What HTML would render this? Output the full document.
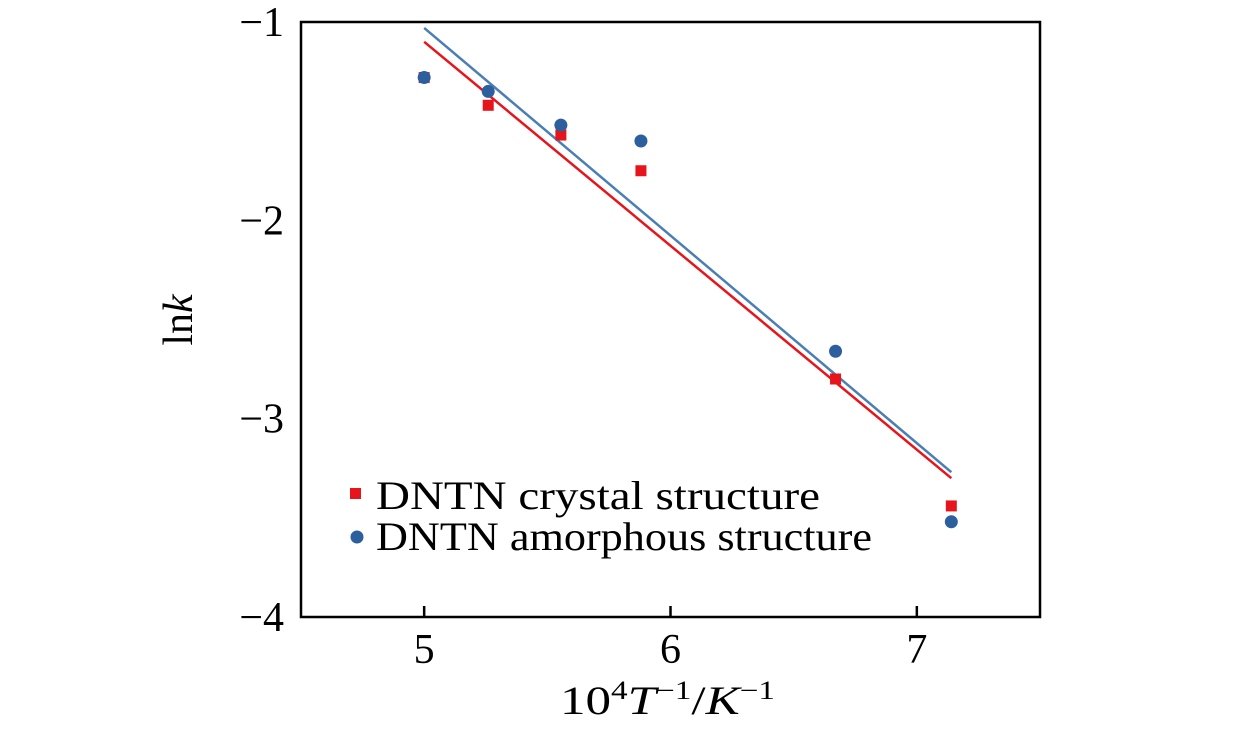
<!DOCTYPE html>
<html><head><meta charset="utf-8">
<style>
body{margin:0;background:#fff;}
svg text{font-family:"Liberation Serif",serif;fill:#000;}
</style></head>
<body>
<svg id="chart" width="1260" height="724">
<rect x="301" y="22" width="739" height="595" fill="none" stroke="#000" stroke-width="2.5"/>
<g id="axes"></g>
<g id="marks"></g>
<text x="560" y="714" font-size="40" textLength="215" lengthAdjust="spacingAndGlyphs">10<tspan font-size="26" dy="-15">4</tspan><tspan dy="15" font-style="italic">T</tspan><tspan font-size="26" dy="-15">−1</tspan><tspan dy="15">/</tspan><tspan font-style="italic">K</tspan><tspan font-size="26" dy="-15">−1</tspan></text>
<text transform="translate(192,320) rotate(-90)" font-size="42" text-anchor="middle">ln<tspan font-style="italic">k</tspan></text>
<g>
<rect x="350" y="488" width="11" height="11" fill="#e8141b"/>
<text x="376" y="509" font-size="40" textLength="444" lengthAdjust="spacingAndGlyphs">DNTN crystal structure</text>
<circle cx="357" cy="537" r="6.5" fill="#2c5f9e"/>
<text x="376" y="550" font-size="40" textLength="496" lengthAdjust="spacingAndGlyphs">DNTN amorphous structure</text>
</g>
</svg>
<script>
const xTicks=[5,6,7];
const yTicks=[-1,-2,-3,-4];
const xVals=[5.0,5.26,5.555,5.88,6.67,7.14];
const crystal=[-1.28,-1.42,-1.57,-1.75,-2.80,-3.44];
const amorphous=[-1.28,-1.35,-1.52,-1.60,-2.66,-3.52];
const crystalFit=[-1.10,-3.30];
const amorphousFit=[-1.03,-3.27];
const fitX=[5.0,7.14];
const NS='http://www.w3.org/2000/svg';
const X=v=>301+(v-4.5)/3*739;
const Y=v=>22+(-1-v)/3*595;
function mk(t,a,p){const e=document.createElementNS(NS,t);for(const k in a)e.setAttribute(k,a[k]);p.appendChild(e);return e;}
const ax=document.getElementById('axes'),mg=document.getElementById('marks');
xTicks.forEach(t=>{
 const l=mk('line',{x1:X(t),x2:X(t),y1:617,y2:606,stroke:'#000','stroke-width':2.5},ax);
 
 
 const s=mk('text',{x:X(t),y:663,'font-size':42,'text-anchor':'middle'},ax);s.textContent=t;
 
 
});
yTicks.forEach(t=>{
 const s=mk('text',{x:284,y:Y(t)+14,'font-size':42,'text-anchor':'end'},ax);s.textContent='−'+Math.abs(t);
 
 
});
const lc=mk('line',{x1:X(fitX[0]),y1:Y(crystalFit[0]),x2:X(fitX[1]),y2:Y(crystalFit[1]),stroke:'#e8141b','stroke-width':2.5},mg);


const la=mk('line',{x1:X(fitX[0]),y1:Y(amorphousFit[0]),x2:X(fitX[1]),y2:Y(amorphousFit[1]),stroke:'#4a7fb5','stroke-width':2.5},mg);


xVals.forEach((x,i)=>{
 const r=mk('rect',{x:X(x)-5.5,y:Y(crystal[i])-5.5,width:11,height:11,fill:'#e8141b'},mg);
 
 
});
xVals.forEach((x,i)=>{
 const c=mk('circle',{cx:X(x),cy:Y(amorphous[i]),r:6.5,fill:'#2c5f9e'},mg);
 
 
});
</script>
</body></html>
